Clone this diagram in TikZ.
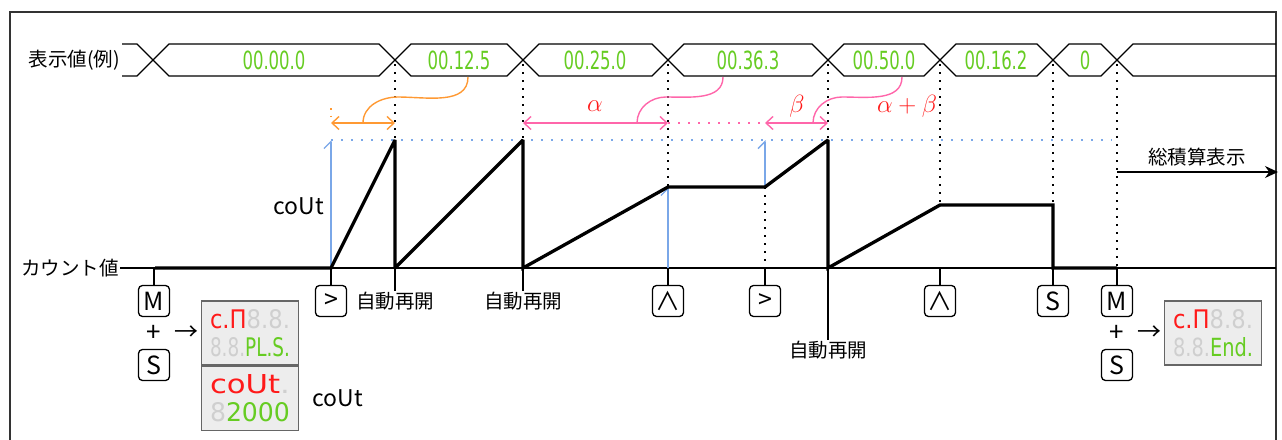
\documentclass[tikz,border=0pt]{standalone}
\usepackage{fontspec}
\usepackage{graphicx}
\setmainfont{Noto Sans CJK JP}
\newfontfamily\segfont{DejaVu Sans}
\usetikzlibrary{arrows.meta,positioning,shapes,calc}
\definecolor{segred}{HTML}{FF1A1A}
\definecolor{seggreen}{HTML}{66CC22}
\definecolor{segoff}{HTML}{CFCFCF}
\definecolor{cblue}{HTML}{7AA7E8}
\definecolor{corange}{HTML}{FF9933}
\definecolor{cpink}{HTML}{FF66AA}
\newcommand{\seg}[1]{\textcolor{seggreen}{\scalebox{0.66}[1]{#1}}}
\newcommand{\segline}[1]{\resizebox{80pt}{19pt}{#1}}

\begin{document}
\begin{tikzpicture}[x=1pt,y=-1pt,
  lbl/.style={font=\fontsize{19.5}{19.5}\selectfont,inner sep=1pt},
  key/.style={draw,rounded corners=4pt,line width=1.3pt,minimum size=31pt,inner sep=0pt,font=\fontsize{25}{25}\selectfont},
  disp/.style={draw=black!60,fill=black!7,line width=1.3pt,minimum width=97pt,minimum height=64pt,inner sep=0pt,align=center,font=\segfont\fontsize{24}{28}\selectfont},
  val/.style={inner sep=0pt,font=\segfont\fontsize{25}{25}\selectfont},
  bus/.style={line width=1.3pt},
  wave/.style={line width=3.3pt,miter limit=2},
  thinline/.style={line width=1.4pt},
  dots/.style={line width=1.6pt,dash pattern=on 1.6pt off 6.4pt},
  bluedots/.style={draw=cblue,line width=1.6pt,dash pattern=on 1.6pt off 8.4pt},
  bluearr/.style={draw=cblue,line width=1.3pt,-{Straight Barb[harpoon,length=7pt,width=14pt]}},
  barb/.style={line width=1.4pt,{Straight Barb[length=7pt,width=13pt]}-{Straight Barb[length=7pt,width=13pt]}},
  greek/.style={text=segred,font=\fontsize{27}{27}\selectfont}]
\useasboundingbox (0,0) rectangle (1282,439);
% frame
\draw[line width=1.5pt,black!80] (10,440) -- (10,12) -- (1276,12) -- (1276,440);

% display value bus
\node[lbl,anchor=east] (busname) at (121,60) {表示値(例)};
\draw[bus] (122,44) -- (137,44) -- (153,60) -- (137,76) -- (122,76);
\foreach \a/\b in {153/395,395/523,523/668,668/828,828/940,940/1053,1053/1117}
  \draw[bus] (\a,60) -- (\a+16,44) -- (\b-16,44) -- (\b,60) -- (\b-16,76) -- (\a+16,76) -- cycle;
\draw[bus] (1276,44) -- (1133,44) -- (1117,60) -- (1133,76) -- (1276,76);
\foreach \x/\v [count=\i] in {274/00.00.0,459/00.12.5,595/00.25.0,748/00.36.3,884/00.50.0,996/00.16.2,1085/0}
  \node[val] (v\i) at (\x,60) {\seg{\v}};
\foreach \c [count=\i] in {153,395,523,668,828,940,1053,1117}
  \coordinate (x\i) at (\c,64);

% count value
\node[lbl,anchor=east] (cntname) at (120,268) {カウント値};
\coordinate (w0) at (155,268);
\coordinate (w1) at (331,268);
\coordinate (w2) at (395,140);
\coordinate (w3) at (395,268);
\coordinate (w4) at (523,140);
\coordinate (w5) at (523,268);
\coordinate (w6) at (668,187);
\coordinate (w7) at (765,187);
\coordinate (w8) at (828,140);
\coordinate (w9) at (828,268);
\coordinate (w10) at (940,205);
\coordinate (w11) at (1053,205);
\coordinate (w12) at (1053,268);
\coordinate (w13) at (1117,268);
\coordinate (wend) at (1276,268);
\draw[thinline] (cntname) -- (wend);

% set value level
\coordinate (h1) at (331,140);
\coordinate (h2) at (765,140);
\coordinate (h3) at (1112,140);
\draw[bluedots] (h1) -- (h3);
\draw[dots] (x2) -- (w2);
\draw[dots] (x3) -- (w4);
\draw[dots] (x4) -- (w6);
\draw[dots] (x5) -- (w8);
\draw[dots] (x6) -- (w10);
\draw[dots] (x7) -- (w11);
\draw[dots] (x8) -- (w13);
\draw[dots] (w7) -- (765,268);

\draw[bluearr] (w1) -- (h1);
\draw[bluearr] (w6 |- w0) -- (w6);
\draw[bluearr] (w7) -- (h2);
\node[lbl,font=\fontsize{23}{23}\selectfont,anchor=east] (cout1) at (325,206) {coUt};

\draw[wave] (w0) -- (w1) -- (w2) -- (w3) -- (w4) -- (w5) -- (w6) -- (w7) -- (w8) -- (w9)
  -- (w10) -- (w11) -- (w12) -- (w13);

% intervals
\coordinate (o0) at (331,108);
\coordinate (o1) at (331,123);
\coordinate (o2) at (395,123);
\coordinate (a1) at (523,123);
\coordinate (a2) at (668,123);
\coordinate (b1) at (765,123);
\coordinate (b2) at (828,123);
\draw[corange,line width=1.4pt,dash pattern=on 1.6pt off 6pt] (o0) -- (o1);
\draw[barb,corange] (o1) -- (o2);
\draw[barb,cpink] (a1) -- (a2);
\draw[cpink,line width=1.6pt,dash pattern=on 1.6pt off 8.4pt] (a2) -- (b1);
\draw[barb,cpink] (b1) -- (b2);
\node[greek] (alpha) at (595,106) {$\alpha$};
\node[greek] (beta) at (797,106) {$\beta$};
\node[greek] (sum) at (907,106) {$\alpha+\beta$};

\coordinate (oc) at (363,123);
\coordinate (oq) at (398,97);
\coordinate (ov) at (468,77);
\coordinate (ac) at (637,123);
\coordinate (aq) at (666,97);
\coordinate (av) at (723,77);
\coordinate (bc) at (813,123);
\coordinate (bq) at (842,97);
\coordinate (bv) at (902,77);
\draw[corange,line width=1.4pt] (oc) to[out=90,in=180] (oq) to[out=0,in=-90] (ov);
\draw[cpink,line width=1.4pt] (ac) to[out=90,in=180] (aq) to[out=0,in=-90] (av);
\draw[cpink,line width=1.4pt] (bc) to[out=90,in=180] (bq) to[out=0,in=-90] (bv);

% total display
\coordinate (t1) at (1117,172);
\coordinate (t2) at (1278,172);
\draw[line width=1.4pt,-{Stealth[length=13pt,width=12pt]}] (t1) -- (t2);
\node[lbl] (total) at (1197,157) {総積算表示};

% keys
\node[key] (kM1) at (154,301) {M};
\node[key] (kS1) at (154,365) {S};
\node[key] (kR1) at (331,301) {>};
\node[key] (kU1) at (668,301) {∧};
\node[key] (kR2) at (765,301) {>};
\node[key] (kU2) at (940,301) {∧};
\node[key] (kS2) at (1053,301) {S};
\node[key] (kM2) at (1117,301) {M};
\node[key] (kS3) at (1117,365) {S};
\foreach \k in {kM1,kR1,kU1,kR2,kU2,kS2,kM2}
  \draw[thinline] (\k) -- (\k |- w0);
\node[lbl,font=\fontsize{26}{26}\selectfont] (plus1) at (154,333) {+};
\node[lbl,font=\fontsize{24}{24}\selectfont] (to1) at (186,333) {→};
\node[lbl,font=\fontsize{26}{26}\selectfont] (plus2) at (1117,333) {+};
\node[lbl,font=\fontsize{24}{24}\selectfont] (to2) at (1149,333) {→};

% auto restart
\node[lbl] (re1) at (395,301) {自動再開};
\node[lbl] (re2) at (523,301) {自動再開};
\node[lbl] (re3) at (828,350) {自動再開};
\draw[thinline] (w3) -- (re1);
\draw[thinline] (w5) -- (re2);
\draw[thinline] (w9) -- (re3);

% panel displays
\node[disp] (d1) at (250,333) {\segline{\textcolor{segred}{c.Π}\textcolor{segoff}{8.8.}}\\
  \segline{\textcolor{segoff}{8.8.}\textcolor{seggreen}{PL.S.}}};
\node[disp,below=0pt of d1] (d2) {\segline{\textcolor{segred}{coUt}\textcolor{segoff}{.}}\\
  \segline{\textcolor{segoff}{8}\textcolor{seggreen}{2000}}};
\node[lbl,font=\fontsize{23}{23}\selectfont,right=12pt of d2] (cout2) {coUt};
\node[disp] (d3) at (1213,333) {\segline{\textcolor{segred}{c.Π}\textcolor{segoff}{8.8.}}\\
  \segline{\textcolor{segoff}{8.8.}\textcolor{seggreen}{End.}}};
\end{tikzpicture}
\end{document}
